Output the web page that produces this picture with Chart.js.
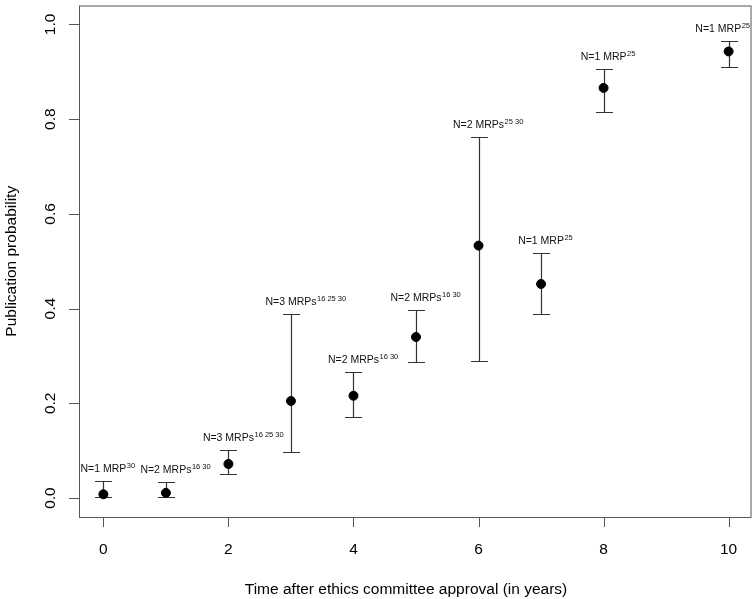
<!DOCTYPE html>
<html>
<head>
<meta charset="utf-8">
<script src="https://cdn.jsdelivr.net/npm/chart.js@4"></script>
<style>
  body { margin: 0; background: #fff; }
  canvas { display: block; }
</style>
</head>
<body>
<canvas id="chart" width="756" height="599"></canvas>
<script>
// Publication probability by year after ethics approval, with CIs
const years = [0, 1, 2, 3, 4, 5, 6, 7, 8, 10];
const prob = [0.008, 0.011, 0.072, 0.205, 0.216, 0.340, 0.533, 0.452, 0.866, 0.943];
const lower = [0.002, 0.003, 0.050, 0.097, 0.172, 0.288, 0.289, 0.388, 0.815, 0.910];
const upper = [0.035, 0.034, 0.102, 0.388, 0.267, 0.397, 0.762, 0.518, 0.905, 0.966];
const labelMain = ['N=1 MRP', 'N=2 MRPs', 'N=3 MRPs', 'N=3 MRPs', 'N=2 MRPs',
  'N=2 MRPs', 'N=2 MRPs', 'N=1 MRP', 'N=1 MRP', 'N=1 MRP'];
const labelSup = ['30', '16 30', '16 25 30', '16 25 30', '16 30',
  '16 30', '25 30', '25', '25', '25'];
const xTicks = [0, 2, 4, 6, 8, 10];
const yTicks = [0, 0.2, 0.4, 0.6, 0.8, 1.0];

const FONT = "'Liberation Sans', Arial, sans-serif";
const axisColor = '#555';
const capW = 8.5;

// error bars go under the dots
const errorBars = {
  id: 'errorBars',
  beforeDatasetsDraw(chart) {
    const { ctx, scales: { x, y } } = chart;
    ctx.save();
    ctx.strokeStyle = '#333';
    ctx.lineWidth = 1.2;
    years.forEach((yr, i) => {
      const px = Math.round(x.getPixelForValue(yr)) + 0.5;
      const top = Math.round(y.getPixelForValue(upper[i])) + 0.5;
      const bot = Math.round(y.getPixelForValue(lower[i])) + 0.5;
      ctx.beginPath();
      ctx.moveTo(px, top); ctx.lineTo(px, bot);
      ctx.moveTo(px - capW, top); ctx.lineTo(px + capW, top);
      ctx.moveTo(px - capW, bot); ctx.lineTo(px + capW, bot);
      ctx.stroke();
    });
    ctx.restore();
  },
  afterDatasetsDraw(chart) {
    const { ctx, chartArea, scales: { x, y } } = chart;
    ctx.save();
    ctx.fillStyle = '#111';
    ctx.textBaseline = 'alphabetic';
    years.forEach((yr, i) => {
      ctx.font = '10.5px ' + FONT;
      const wMain = ctx.measureText(labelMain[i]).width;
      ctx.font = '7.5px ' + FONT;
      const wSup = ctx.measureText(labelSup[i]).width;
      let start = x.getPixelForValue(yr) - wMain / 2;
      if (start + wMain + wSup > chartArea.right - 1) start = chartArea.right - 1 - wMain - wSup;
      const base = y.getPixelForValue(upper[i]) - 9;
      ctx.textAlign = 'left';
      ctx.font = '10.5px ' + FONT;
      ctx.fillText(labelMain[i], start, base);
      ctx.font = '7.5px ' + FONT;
      ctx.fillText(labelSup[i], start + wMain + 0.5, base - 4);
    });
    ctx.restore();
  }
};

// R-style frame, ticks and axis titles
const frame = {
  id: 'frame',
  afterDraw(chart) {
    const { ctx, chartArea: a, scales: { x, y } } = chart;
    ctx.save();
    ctx.strokeStyle = axisColor;
    ctx.lineWidth = 1;
    ctx.strokeRect(a.left + 0.5, a.top + 0.5, a.right - a.left, a.bottom - a.top);

    ctx.fillStyle = '#000';
    ctx.font = '15.5px ' + FONT;
    ctx.beginPath();
    xTicks.forEach(v => {
      const px = Math.round(x.getPixelForValue(v)) + 0.5;
      ctx.moveTo(px, a.bottom); ctx.lineTo(px, a.bottom + 10);
    });
    yTicks.forEach(v => {
      const py = Math.round(y.getPixelForValue(v)) + 0.5;
      ctx.moveTo(a.left, py); ctx.lineTo(a.left - 10, py);
    });
    ctx.stroke();

    ctx.textAlign = 'center';
    ctx.textBaseline = 'alphabetic';
    xTicks.forEach(v => {
      ctx.fillText(String(v), x.getPixelForValue(v), 553.5);
    });
    yTicks.forEach(v => {
      ctx.save();
      ctx.translate(55, y.getPixelForValue(v));
      ctx.rotate(-Math.PI / 2);
      ctx.fillText(v.toFixed(1), 0, 0);
      ctx.restore();
    });

    ctx.fillText('Time after ethics committee approval (in years)', 406, 594);
    ctx.save();
    ctx.translate(16, (a.top + a.bottom) / 2);
    ctx.rotate(-Math.PI / 2);
    ctx.fillText('Publication probability', 0, 0);
    ctx.restore();
    ctx.restore();
  }
};

new Chart(document.getElementById('chart'), {
  type: 'scatter',
  data: {
    datasets: [{
      data: years.map((yr, i) => ({ x: yr, y: prob[i] })),
      backgroundColor: '#000',
      borderColor: '#000',
      pointRadius: 4.5,
      pointHoverRadius: 4.5
    }]
  },
  options: {
    responsive: false,
    animation: false,
    events: [],
    layout: { padding: { left: 79, right: 5, top: 3, bottom: 82 } },
    plugins: { legend: { display: false }, tooltip: { enabled: false } },
    scales: {
      x: { type: 'linear', min: -0.39, max: 10.35, display: false },
      y: { type: 'linear', min: -0.04, max: 1.04, display: false }
    }
  },
  plugins: [errorBars, frame]
});
</script>
</body>
</html>
